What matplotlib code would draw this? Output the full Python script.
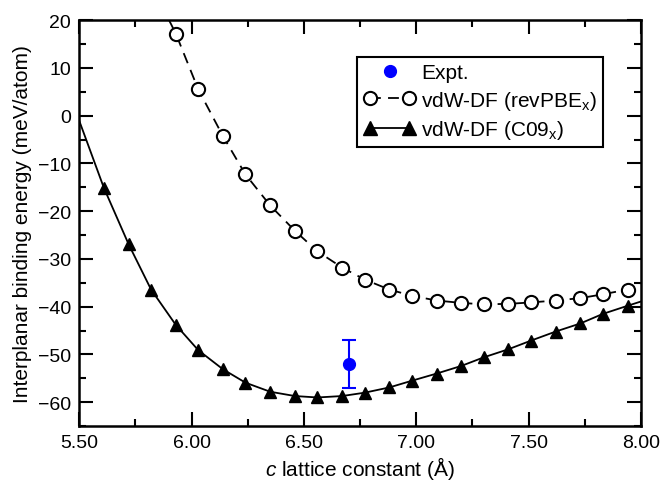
import numpy as np
import matplotlib.pyplot as plt
from matplotlib.lines import Line2D
from matplotlib.legend_handler import HandlerLine2D
from matplotlib.ticker import MultipleLocator, FormatStrFormatter

plt.rcParams['font.family'] = ['Liberation Sans', 'DejaVu Sans']
plt.rcParams['mathtext.fontset'] = 'custom'
plt.rcParams['mathtext.rm'] = 'Liberation Sans'
plt.rcParams['mathtext.it'] = 'Liberation Sans:italic'

# c lattice constant (Angstrom), grid used by both functionals
c09_x = [5.61, 5.72, 5.82, 5.93, 6.03, 6.14, 6.24, 6.35, 6.46, 6.56, 6.67, 6.77,
         6.88, 6.98, 7.09, 7.20, 7.30, 7.41, 7.51, 7.62, 7.73, 7.83, 7.94]
c09_e = [-15.1, -26.9, -36.4, -43.8, -49.1, -53.1, -55.9, -57.8, -58.7, -59.0,
         -58.7, -58.0, -56.9, -55.5, -54.0, -52.4, -50.6, -48.9, -47.1, -45.2,
         -43.5, -41.5, -39.8]

rev_x = [5.93, 6.03, 6.14, 6.24, 6.35, 6.46, 6.56, 6.67, 6.77, 6.88, 6.98, 7.09,
         7.20, 7.30, 7.41, 7.51, 7.62, 7.73, 7.83, 7.94]
rev_e = [17.2, 5.5, -4.3, -12.3, -18.8, -24.1, -28.4, -31.8, -34.3, -36.4, -37.7,
         -38.7, -39.2, -39.5, -39.4, -39.1, -38.7, -38.2, -37.4, -36.4]

# where the fitted curves meet the frame
c09_ends = ([5.50, 8.00], [-1.0, -38.9])
rev_ends = ([5.90, 8.00], [20.0, -35.0])

expt_x, expt_e, expt_err = 6.70, -52.0, 5.0

fig = plt.figure(figsize=(6.65, 4.81), dpi=100)
ax = fig.add_axes([0.119, 0.112, 0.845, 0.844])

# fitted curves
ax.plot([c09_ends[0][0]] + c09_x + [c09_ends[0][1]],
        [c09_ends[1][0]] + c09_e + [c09_ends[1][1]],
        color='black', lw=1.3, ls='-')
ax.plot([rev_ends[0][0]] + rev_x + [rev_ends[0][1]],
        [rev_ends[1][0]] + rev_e + [rev_ends[1][1]],
        color='black', lw=1.3, ls=(0, (6, 4)))

# markers
ax.plot(c09_x, c09_e, ls='none', marker='^', ms=9, color='black')
ax.plot(rev_x, rev_e, ls='none', marker='o', ms=9.5, mfc='white', mec='black', mew=1.5)
ax.errorbar(expt_x, expt_e, yerr=expt_err, fmt='o', color='#0000ff', ms=8.5,
            capsize=5, elinewidth=1.5, capthick=1.5)

ax.set_xlim(5.5, 8.0)
ax.set_ylim(-65, 20)
ax.xaxis.set_major_locator(MultipleLocator(0.5))
ax.xaxis.set_minor_locator(MultipleLocator(0.25))
ax.xaxis.set_major_formatter(FormatStrFormatter('%.2f'))
ax.yaxis.set_major_locator(MultipleLocator(10))
ax.yaxis.set_minor_locator(MultipleLocator(5))
ax.tick_params(which='both', direction='in', top=True, right=True, labelsize=14, width=1.5)
ax.tick_params(which='major', length=10, pad=6)
ax.tick_params(which='minor', length=5)
for s in ax.spines.values():
    s.set_linewidth(1.8)

ax.set_xlabel(r'$\mathit{c}$ lattice constant (Å)', fontsize=15, labelpad=2)
ax.set_ylabel('Interplanar binding energy (meV/atom)', fontsize=15, labelpad=4)

h_expt = Line2D([], [], ls='none', marker='o', ms=8.5, color='#0000ff')
h_rev = Line2D([], [], ls=(0, (6, 4)), lw=1.3, color='black', marker='o', ms=9.5,
               mfc='white', mec='black', mew=1.5)
h_c09 = Line2D([], [], ls='-', lw=1.3, color='black', marker='^', ms=9.5)
leg = ax.legend([h_expt, h_rev, h_c09],
                ['Expt.', r'vdW-DF (revPBE$_\mathrm{x}$)', r'vdW-DF (C09$_\mathrm{x}$)'],
                handler_map={h_expt: HandlerLine2D(numpoints=1)},
                numpoints=2, loc='upper right', bbox_to_anchor=(0.932, 0.909),
                fontsize=15, frameon=True, fancybox=False, framealpha=1,
                edgecolor='black', handlelength=2.5, handletextpad=0.25,
                borderpad=0.3, labelspacing=0.3, borderaxespad=0)
leg.get_frame().set_linewidth(1.5)

fig.savefig('out.png', dpi=100)
